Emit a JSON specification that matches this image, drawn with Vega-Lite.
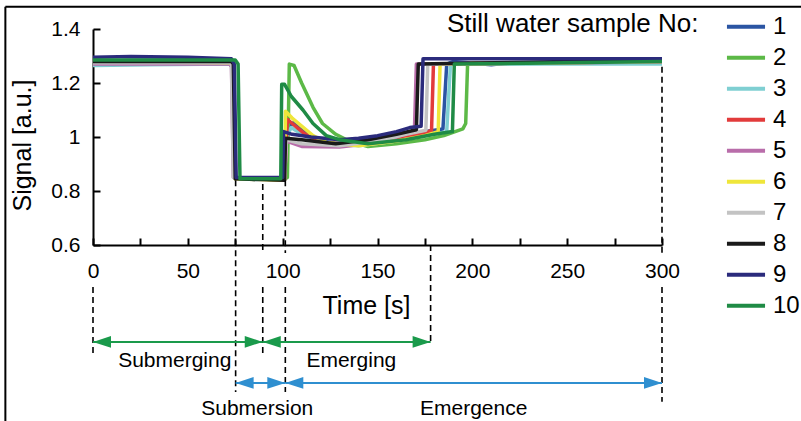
{
  "$schema": "https://vega.github.io/schema/vega-lite/v6.json",
  "width": 569,
  "height": 216,
  "autosize": "none",
  "padding": {"left": 93, "top": 29, "right": 139, "bottom": 176},
  "config": {
    "font": "Liberation Sans",
    "view": {"stroke": null},
    "axis": {"labelColor": "black", "titleColor": "black", "domainColor": "black", "tickColor": "black", "domainWidth": 2, "tickWidth": 2, "grid": false, "labelFontSize": 21, "titleFontSize": 25, "titleFontWeight": "normal", "labelFlush": false, "labelOverlap": false}
  },
  "datasets": {
    "samples": [
      {"s":1,"t":0,"v":1.28},{"s":1,"t":20,"v":1.283},{"s":1,"t":40,"v":1.285},{"s":1,"t":60,"v":1.28},{"s":1,"t":72.5,"v":1.278},{"s":1,"t":73.5,"v":1.265},{"s":1,"t":74.5,"v":0.85},{"s":1,"t":85,"v":0.843},{"s":1,"t":100,"v":0.845},{"s":1,"t":101.5,"v":0.86},{"s":1,"t":102.5,"v":1.03},{"s":1,"t":106,"v":1.055},{"s":1,"t":112,"v":1.015},{"s":1,"t":120,"v":0.985},{"s":1,"t":130,"v":0.975},{"s":1,"t":140,"v":0.975},{"s":1,"t":150,"v":0.985},{"s":1,"t":160,"v":1.0},{"s":1,"t":170,"v":1.015},{"s":1,"t":180,"v":1.025},{"s":1,"t":184.5,"v":1.03},{"s":1,"t":185.5,"v":1.15},{"s":1,"t":186.5,"v":1.27},{"s":1,"t":190,"v":1.28},{"s":1,"t":210,"v":1.268},{"s":1,"t":220,"v":1.275},{"s":1,"t":250,"v":1.275},{"s":1,"t":300,"v":1.275},
      {"s":2,"t":0,"v":1.275},{"s":2,"t":40,"v":1.278},{"s":2,"t":72,"v":1.275},{"s":2,"t":73.5,"v":1.262},{"s":2,"t":74.5,"v":0.85},{"s":2,"t":100,"v":0.84},{"s":2,"t":102.5,"v":0.85},{"s":2,"t":103.5,"v":1.27},{"s":2,"t":106,"v":1.265},{"s":2,"t":110,"v":1.2},{"s":2,"t":116,"v":1.11},{"s":2,"t":121,"v":1.05},{"s":2,"t":128,"v":1.01},{"s":2,"t":135,"v":0.985},{"s":2,"t":145,"v":0.965},{"s":2,"t":160,"v":0.975},{"s":2,"t":175,"v":0.99},{"s":2,"t":185,"v":1.005},{"s":2,"t":195,"v":1.03},{"s":2,"t":196.5,"v":1.05},{"s":2,"t":197.5,"v":1.27},{"s":2,"t":200,"v":1.275},{"s":2,"t":230,"v":1.272},{"s":2,"t":300,"v":1.28},
      {"s":3,"t":0,"v":1.265},{"s":3,"t":30,"v":1.268},{"s":3,"t":72,"v":1.27},{"s":3,"t":73.5,"v":1.258},{"s":3,"t":74.5,"v":0.85},{"s":3,"t":101,"v":0.845},{"s":3,"t":102,"v":1.0},{"s":3,"t":104.5,"v":1.035},{"s":3,"t":110,"v":1.01},{"s":3,"t":120,"v":0.98},{"s":3,"t":140,"v":0.968},{"s":3,"t":160,"v":0.985},{"s":3,"t":175,"v":1.005},{"s":3,"t":186.5,"v":1.02},{"s":3,"t":187.5,"v":1.15},{"s":3,"t":188.5,"v":1.27},{"s":3,"t":300,"v":1.27},
      {"s":4,"t":0,"v":1.275},{"s":4,"t":72.5,"v":1.275},{"s":4,"t":73.5,"v":1.26},{"s":4,"t":74.5,"v":0.85},{"s":4,"t":101,"v":0.845},{"s":4,"t":102.5,"v":1.065},{"s":4,"t":105,"v":1.05},{"s":4,"t":111,"v":1.015},{"s":4,"t":120,"v":0.98},{"s":4,"t":140,"v":0.97},{"s":4,"t":160,"v":0.99},{"s":4,"t":175,"v":1.015},{"s":4,"t":178.5,"v":1.025},{"s":4,"t":179.5,"v":1.27},{"s":4,"t":300,"v":1.28},
      {"s":5,"t":0,"v":1.27},{"s":5,"t":72,"v":1.27},{"s":5,"t":73,"v":1.26},{"s":5,"t":74,"v":0.85},{"s":5,"t":101,"v":0.84},{"s":5,"t":102,"v":0.985},{"s":5,"t":110,"v":0.965},{"s":5,"t":130,"v":0.963},{"s":5,"t":145,"v":0.975},{"s":5,"t":160,"v":1.0},{"s":5,"t":168,"v":1.02},{"s":5,"t":169.5,"v":1.03},{"s":5,"t":170.5,"v":1.27},{"s":5,"t":300,"v":1.278},
      {"s":6,"t":0,"v":1.28},{"s":6,"t":72.5,"v":1.275},{"s":6,"t":74,"v":1.265},{"s":6,"t":75,"v":0.845},{"s":6,"t":101,"v":0.84},{"s":6,"t":101.5,"v":1.095},{"s":6,"t":105,"v":1.07},{"s":6,"t":110,"v":1.04},{"s":6,"t":116,"v":1.005},{"s":6,"t":123,"v":0.98},{"s":6,"t":140,"v":0.968},{"s":6,"t":160,"v":0.985},{"s":6,"t":175,"v":1.005},{"s":6,"t":182,"v":1.02},{"s":6,"t":183,"v":1.27},{"s":6,"t":300,"v":1.28},
      {"s":7,"t":0,"v":1.275},{"s":7,"t":73,"v":1.275},{"s":7,"t":74,"v":0.85},{"s":7,"t":101,"v":0.845},{"s":7,"t":102,"v":0.99},{"s":7,"t":110,"v":0.975},{"s":7,"t":130,"v":0.968},{"s":7,"t":150,"v":0.985},{"s":7,"t":165,"v":1.01},{"s":7,"t":175.5,"v":1.025},{"s":7,"t":176.5,"v":1.27},{"s":7,"t":300,"v":1.28},
      {"s":8,"t":0,"v":1.28},{"s":8,"t":73,"v":1.28},{"s":8,"t":74,"v":1.27},{"s":8,"t":75,"v":0.845},{"s":8,"t":101,"v":0.84},{"s":8,"t":101.5,"v":0.995},{"s":8,"t":110,"v":0.99},{"s":8,"t":128,"v":0.975},{"s":8,"t":145,"v":0.99},{"s":8,"t":160,"v":1.01},{"s":8,"t":170.5,"v":1.027},{"s":8,"t":171.5,"v":1.27},{"s":8,"t":300,"v":1.285},
      {"s":9,"t":0,"v":1.295},{"s":9,"t":20,"v":1.298},{"s":9,"t":50,"v":1.295},{"s":9,"t":73,"v":1.29},{"s":9,"t":74.5,"v":1.27},{"s":9,"t":75.5,"v":0.85},{"s":9,"t":100,"v":0.85},{"s":9,"t":100.5,"v":1.02},{"s":9,"t":105,"v":1.01},{"s":9,"t":115,"v":1.0},{"s":9,"t":130,"v":0.99},{"s":9,"t":140,"v":0.995},{"s":9,"t":150,"v":1.005},{"s":9,"t":160,"v":1.02},{"s":9,"t":167,"v":1.035},{"s":9,"t":173,"v":1.04},{"s":9,"t":174,"v":1.29},{"s":9,"t":300,"v":1.29},
      {"s":10,"t":0,"v":1.285},{"s":10,"t":40,"v":1.285},{"s":10,"t":75,"v":1.285},{"s":10,"t":76.5,"v":1.27},{"s":10,"t":77.5,"v":0.845},{"s":10,"t":99,"v":0.845},{"s":10,"t":99.5,"v":1.195},{"s":10,"t":101,"v":1.195},{"s":10,"t":104.6,"v":1.15},{"s":10,"t":110.7,"v":1.1},{"s":10,"t":116,"v":1.05},{"s":10,"t":123,"v":1.005},{"s":10,"t":130,"v":0.99},{"s":10,"t":145,"v":0.975},{"s":10,"t":165,"v":0.99},{"s":10,"t":180,"v":1.01},{"s":10,"t":189.5,"v":1.02},{"s":10,"t":190.5,"v":1.27},{"s":10,"t":300,"v":1.28}
    ],
    "dashes": [
      {"x":0,"y":0.444,"y2":0.185},
      {"x":75.2,"y":0.84,"y2":0.056},
      {"x":89.5,"y":0.826,"y2":0.57},
      {"x":89.5,"y":0.444,"y2":0.185},
      {"x":101.4,"y":0.84,"y2":0.57},
      {"x":101.4,"y":0.444,"y2":0.056},
      {"x":178,"y":0.6,"y2":0.241},
      {"x":300,"y":1.26,"y2":0.57},
      {"x":300,"y":0.444,"y2":0.019}
    ],
    "arrows": [
      {"phase":"Submerging","row":"upper","x":0,"x2":89.5,"y":0.241,"lx":43.1,"ly":0.149},
      {"phase":"Emerging","row":"upper","x":89.5,"x2":178,"y":0.241,"lx":136.2,"ly":0.149},
      {"phase":"Submersion","row":"lower","x":75.2,"x2":101.4,"y":0.089,"lx":86.6,"ly":-0.03},
      {"phase":"Emergence","row":"lower","x":101.4,"x2":300,"y":0.089,"lx":200.7,"ly":-0.03}
    ],
    "frame": [
      {"x":-46.2,"x2":374,"y":1.4826,"y2":1.4826},
      {"x":-46.2,"x2":-46.2,"y":1.4826,"y2":-0.07}
    ]
  },
  "resolve": {"scale": {"color": "independent"}},
  "layer": [
    {
      "data": {"name": "samples"},
      "mark": {"type": "line", "strokeWidth": 3.5, "strokeJoin": "round", "clip": false},
      "encoding": {
        "x": {"field": "t", "type": "quantitative", "scale": {"domain": [0, 300], "nice": false},
          "axis": {"title": "Time [s]", "values": [0,25,50,75,100,125,150,175,200,225,250,275,300],
            "labelExpr": "datum.value % 50 == 0 ? datum.label : ''", "tickSize": -7, "labelPadding": 22,
            "titleX": 273, "titleY": 68, "titleBaseline": "alphabetic"}},
        "y": {"field": "v", "type": "quantitative", "scale": {"domain": [0.6, 1.4], "nice": false, "zero": false},
          "axis": {"title": "Signal [a.u.]", "values": [0.6,0.7,0.8,0.9,1.0,1.1,1.2,1.3,1.4],
            "labelExpr": "round(datum.value*10) % 2 == 0 ? format(datum.value, '~g') : ''", "tickSize": -7, "labelPadding": 20,
            "titleX": -71, "titleY": 116, "titleBaseline": "middle"}},
        "color": {"field": "s", "type": "ordinal",
          "scale": {"domain": [1,2,3,4,5,6,7,8,9,10], "range": ["#2b55a3","#5cb947","#7fcfd2","#e23b3b","#b96daa","#efe63a","#c3c3c3","#1a1a1a","#2b2b7c","#1f8b45"]},
          "legend": {"orient": "none", "legendX": 354, "legendY": -18.3, "title": "Still water sample No:", "titleOrient": "left", "titleAnchor": "start", "titleBaseline": "top", "titleLimit": 400,
            "titleFontSize": 26, "titleFontWeight": "normal", "titleColor": "black", "titlePadding": 31, "labelFontSize": 24, "labelColor": "black",
            "symbolType": "M-1.36,0H1.36", "symbolSize": 784, "symbolStrokeWidth": 4, "rowPadding": 3, "labelOffset": 11, "padding": 0}
        }
      }
    },
    {
      "data": {"name": "dashes"},
      "mark": {"type": "rule", "color": "black", "strokeWidth": 1.6, "strokeDash": [6, 4], "clip": false},
      "encoding": {"x": {"field": "x", "type": "quantitative"}, "y": {"field": "y", "type": "quantitative"}, "y2": {"field": "y2"}}
    },
    {
      "data": {"name": "arrows"},
      "mark": {"type": "rule", "strokeWidth": 2, "clip": false},
      "encoding": {"x": {"field": "x", "type": "quantitative"}, "x2": {"field": "x2"}, "y": {"field": "y", "type": "quantitative"},
        "color": {"field": "row", "type": "nominal", "scale": {"domain": ["upper","lower"], "range": ["#1a9a4b","#2f8fd0"]}, "legend": null}}
    },
    {
      "data": {"name": "arrows"},
      "mark": {"type": "point", "shape": "M0,0L2,-0.65L2,0.65Z", "size": 324, "filled": true, "opacity": 1, "clip": false},
      "encoding": {"x": {"field": "x", "type": "quantitative"}, "y": {"field": "y", "type": "quantitative"},
        "color": {"field": "row", "type": "nominal", "scale": {"domain": ["upper","lower"], "range": ["#1a9a4b","#2f8fd0"]}, "legend": null}}
    },
    {
      "data": {"name": "arrows"},
      "mark": {"type": "point", "shape": "M0,0L-2,-0.65L-2,0.65Z", "size": 324, "filled": true, "opacity": 1, "clip": false},
      "encoding": {"x": {"field": "x2", "type": "quantitative"}, "y": {"field": "y", "type": "quantitative"},
        "color": {"field": "row", "type": "nominal", "scale": {"domain": ["upper","lower"], "range": ["#1a9a4b","#2f8fd0"]}, "legend": null}}
    },
    {
      "data": {"name": "arrows"},
      "mark": {"type": "text", "fontSize": 21, "color": "black", "align": "center", "baseline": "alphabetic", "clip": false},
      "encoding": {"x": {"field": "lx", "type": "quantitative"}, "y": {"field": "ly", "type": "quantitative"}, "text": {"field": "phase"}}
    },
    {
      "data": {"name": "frame"},
      "mark": {"type": "rule", "color": "black", "strokeWidth": 2, "clip": false},
      "encoding": {"x": {"field": "x", "type": "quantitative"}, "x2": {"field": "x2"}, "y": {"field": "y", "type": "quantitative"}, "y2": {"field": "y2"}}
    }
  ]
}
